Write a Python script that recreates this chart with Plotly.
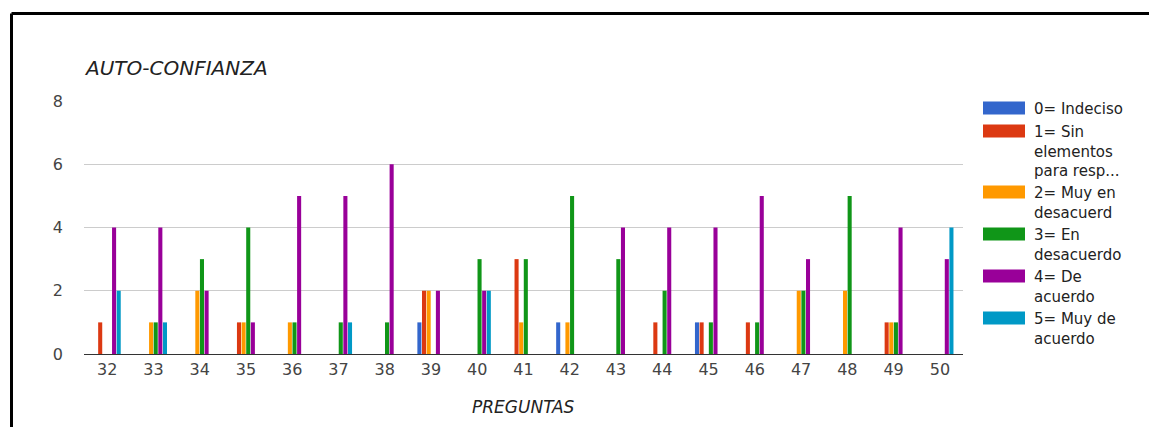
import plotly.graph_objects as go

# ---- data ----
categories = [str(c) for c in range(32, 51)]
indeciso      = [0, 0, 0, 0, 0, 0, 0, 1, 0, 0, 1, 0, 0, 1, 0, 0, 0, 0, 0]
sin_elementos = [1, 0, 0, 1, 0, 0, 0, 2, 0, 3, 0, 0, 1, 1, 1, 0, 0, 1, 0]
muy_desacuerdo = [0, 1, 2, 1, 1, 0, 0, 2, 0, 1, 1, 0, 0, 0, 0, 2, 2, 1, 0]
en_desacuerdo = [0, 1, 3, 4, 1, 1, 1, 0, 3, 3, 5, 3, 2, 1, 1, 2, 5, 1, 0]
de_acuerdo    = [4, 4, 2, 1, 5, 5, 6, 2, 2, 0, 0, 4, 4, 4, 5, 3, 0, 4, 3]
muy_acuerdo   = [2, 1, 0, 0, 0, 1, 0, 0, 2, 0, 0, 0, 0, 0, 0, 0, 0, 0, 4]

series_names = ["0= Indeciso", "1= Sin elementos para resp...", "2= Muy en desacuerd",
                "3= En desacuerdo", "4= De acuerdo", "5= Muy de acuerdo"]
legend_labels = ["0= Indeciso", "1= Sin<br>elementos<br>para resp...", "2= Muy en<br>desacuerd",
                 "3= En<br>desacuerdo", "4= De<br>acuerdo", "5= Muy de<br>acuerdo"]
series_values = [indeciso, sin_elementos, muy_desacuerdo, en_desacuerdo, de_acuerdo, muy_acuerdo]
colors = ["#3366cc", "#dc3912", "#ff9900", "#109618", "#990099", "#0099c6"]

title_text = "AUTO-CONFIANZA"
x_title = "PREGUNTAS"
y_ticks = [0, 2, 4, 6, 8]

# ---- layout geometry (page pixels; page body has an 8px margin) ----
OFF = 8
W, H = 1157 - OFF, 427 - OFF
L, R, T, B = 84, 963, 101, 354   # plot area in page pixels


def px(x):
    return (x - L) / (R - L)


def py(y):
    return (B - y) / (B - T)


fig = go.Figure()
for name, vals, col in zip(series_names, series_values, colors):
    fig.add_trace(go.Bar(x=categories, y=vals, name=name, marker=dict(color=col, line=dict(width=0)),
                         showlegend=False))

shapes = []
annotations = []

# outer frame (top and left edges visible)
shapes.append(dict(type="line", xref="paper", yref="paper", x0=px(11.5), y0=py(13.5), x1=px(1180), y1=py(13.5),
                   line=dict(color="black", width=3)))
shapes.append(dict(type="line", xref="paper", yref="paper", x0=px(11.5), y0=py(13.5), x1=px(11.5), y1=py(450),
                   line=dict(color="black", width=3)))

# custom legend
yc = 108
for lab, col in zip(legend_labels, colors):
    shapes.append(dict(type="rect", xref="paper", yref="paper", x0=px(983), x1=px(1025),
                       y0=py(yc - 6.5), y1=py(yc + 6.5), fillcolor=col, line=dict(width=0)))
    annotations.append(dict(text=lab, xref="paper", yref="paper", x=px(1032), y=py(yc - 10),
                            xanchor="left", yanchor="top", align="left", showarrow=False,
                            font=dict(family="DejaVu Sans", size=15, color="#222222")))
    n = lab.count("<br>") + 1
    yc += n * 19 + 4

# title
annotations.append(dict(text=title_text, xref="paper", yref="paper", x=px(82), y=py(68),
                        xanchor="left", yanchor="middle", showarrow=False,
                        font=dict(family="DejaVu Sans", size=20, color="#222222", style="italic")))
# x axis title
annotations.append(dict(text=x_title, xref="paper", yref="paper", x=0.5, y=py(407),
                        xanchor="center", yanchor="middle", showarrow=False,
                        font=dict(family="DejaVu Sans", size=17, color="#222222", style="italic")))

fig.update_layout(
    width=W, height=H,
    margin=dict(l=L - OFF, r=W - (R - OFF), t=T - OFF, b=H - (B - OFF), pad=0),
    paper_bgcolor="white", plot_bgcolor="white",
    barmode="group", bargap=0.4, bargroupgap=0.12,
    shapes=shapes, annotations=annotations,
    showlegend=False,
    font=dict(family="DejaVu Sans", color="#444444"),
)
fig.update_xaxes(type="category", showgrid=False, showline=True, linecolor="#333333", linewidth=1,
                 ticks="", tickfont=dict(size=16, color="#444444"), ticklabelstandoff=1)
fig.update_yaxes(range=[0, 8], tickvals=y_ticks, showgrid=True, gridcolor="#cccccc", gridwidth=1,
                 zeroline=False, showline=False, ticks="", ticklabelstandoff=20,
                 tickfont=dict(size=16, color="#444444"))

fig.write_html("out.html")
